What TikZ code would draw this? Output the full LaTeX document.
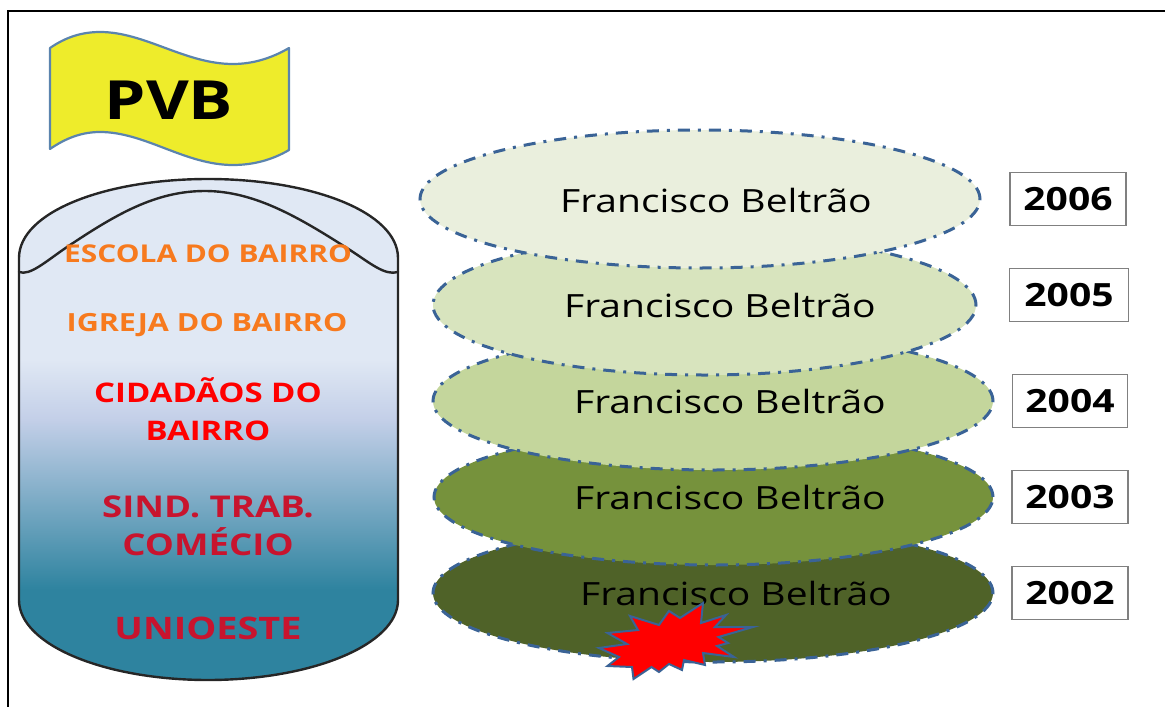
\documentclass[tikz,border=0pt]{standalone}
\usepackage{fontspec}
\setmainfont[FakeStretch=1.22]{Open Sans}
\usepackage{tikz}
\usetikzlibrary{shapes.geometric}

\definecolor{tankteal}{HTML}{2E839F}
\definecolor{tankblue}{HTML}{C3CFE8}
\definecolor{tanklight}{HTML}{E0E8F4}
\pgfdeclareverticalshading{tankshade}{100bp}{color(0bp)=(tankteal); color(34bp)=(tankteal); color(51bp)=(tankblue); color(57bp)=(tanklight); color(100bp)=(tanklight)}

\begin{document}
\begin{tikzpicture}
	[x=1pt,y=-1pt,line cap=round,
	%Styles
	city/.style={ellipse,draw=cityline,line width=3pt,inner sep=0pt,line cap=butt,dash pattern=on 12pt off 8pt on 3pt off 8pt},
	city name/.style={font=\fontsize{32}{37}\selectfont,text=black},
	year/.style={draw=black!50,fill=white,line width=1.2pt,inner sep=0pt,minimum height=53pt,font=\fontsize{32}{37}\bfseries\selectfont},
	tank label/.style={align=center,font=\fontsize{#1}{37.5}\bfseries\selectfont,inner sep=0pt},
	]
	
	%Colors
	\definecolor{cityline}{HTML}{3A6396}
	\definecolor{flagline}{HTML}{5B84AE}
	\definecolor{flagfill}{HTML}{EEEC2B}
	\definecolor{orangetext}{HTML}{F77A1E}
	\definecolor{darkred}{HTML}{C8142E}
	\definecolor{citya}{HTML}{EAEFDD}
	\definecolor{cityb}{HTML}{D8E4BE}
	\definecolor{cityc}{HTML}{C4D69C}
	\definecolor{cityd}{HTML}{76923C}
	\definecolor{citye}{HTML}{4F6228}
	
	\useasboundingbox (0,0) rectangle (1165,707);
	
	%The frame
	\draw[black,line width=2.6pt,line cap=butt] (8,707) -- (8,11) -- (1165,11);
	
	%The flag
	\draw[draw=flagline,fill=flagfill,line width=2.2pt,line join=round] (50,48) .. controls (66,37) and (82,32) .. (100,32) .. controls (145,32) and (185,64) .. (233,64) .. controls (253,64) and (272,58) .. (289,48) -- (289,150) .. controls (272,160) and (253,165) .. (233,165) .. controls (185,165) and (145,132) .. (100,132) .. controls (82,132) and (66,138) .. (50,149) -- cycle;
	\node[font=\fontsize{54}{60}\bfseries\selectfont] (pvb) at (169,100) {PVB};
	
	%The tank
	\draw[black!85,line width=2.4pt,shading=tankshade] (19,258) .. controls (19,212) and (105,179) .. (208,179) .. controls (311,179) and (398,212) .. (398,258) -- (398,600) .. controls (398,645) and (311,680) .. (208,680) .. controls (105,680) and (19,645) .. (19,600) -- cycle;
	\draw[black!85,line width=2.4pt] (19,272) .. controls (30,276) and (45,262) .. (67,247) .. controls (115,215) and (155,191) .. (205,191) .. controls (255,191) and (300,218) .. (350,250) .. controls (370,263) and (385,276) .. (398,272);
	
	\node[tank label=24.5,text=orangetext] (escola) at (208,254) {ESCOLA DO BAIRRO};
	\node[tank label=25,text=orangetext] (igreja) at (207,325) {IGREJA DO BAIRRO};
	\node[tank label=27,text=red] (cidadaos) at (208,409) {CIDADÃOS DO\\BAIRRO};
	\node[tank label=30,text=darkred] (sind) at (208,526) {SIND. TRAB.\\COMÉCIO};
	\node[tank label=31,text=darkred] (unioeste) at (208,628) {UNIOESTE};
	
	%The cities
	\node[city,fill=citye,minimum width=560pt,minimum height=138pt] (c2002) at (713,593) {};
	\node[city,fill=cityd,minimum width=559pt,minimum height=136pt] (c2003) at (713.5,497) {};
	\node[city,fill=cityc,minimum width=560pt,minimum height=138pt] (c2004) at (713,401) {};
	\node[city,fill=cityb,minimum width=543pt,minimum height=140pt] (c2005) at (704.5,305) {};
	\node[city,fill=citya,minimum width=560pt,minimum height=138pt] (c2006) at (700,199) {};
	
	\node[city name] (n2006) at (716,200) {Francisco Beltrão};
	\node[city name] (n2005) at (720,305) {Francisco Beltrão};
	\node[city name] (n2004) at (730,401) {Francisco Beltrão};
	\node[city name] (n2003) at (730,497) {Francisco Beltrão};
	\node[city name] (n2002) at (736,593) {Francisco Beltrão};
	
	%The burst
	\draw[draw=cityline,fill=red,line width=2pt,line join=miter] (703,603) -- (701,623) -- (726,615) -- (715,627) -- (753,627) -- (718.5,637) -- (728,643) -- (717,646) -- (734,657) -- (703,653) -- (705,665) -- (684,660) -- (682,670) -- (669,664) -- (659,672) -- (651.5,667) -- (633.5,679) -- (632,667) -- (607.5,666) -- (619,657) -- (599,648) -- (627,644) -- (607.5,633) -- (638,630) -- (630,616) -- (659,625) -- (669,611) -- (680,618) -- cycle;
	
	%The years
	\node[year,minimum width=116pt] (y2006) at (1068,199) {2006};
	\node[year,minimum width=119pt] (y2005) at (1069,295) {2005};
	\node[year,minimum width=115pt] (y2004) at (1070,401) {2004};
	\node[year,minimum width=116pt] (y2003) at (1070,497) {2003};
	\node[year,minimum width=116pt] (y2002) at (1070,593) {2002};
\end{tikzpicture}
\end{document}
